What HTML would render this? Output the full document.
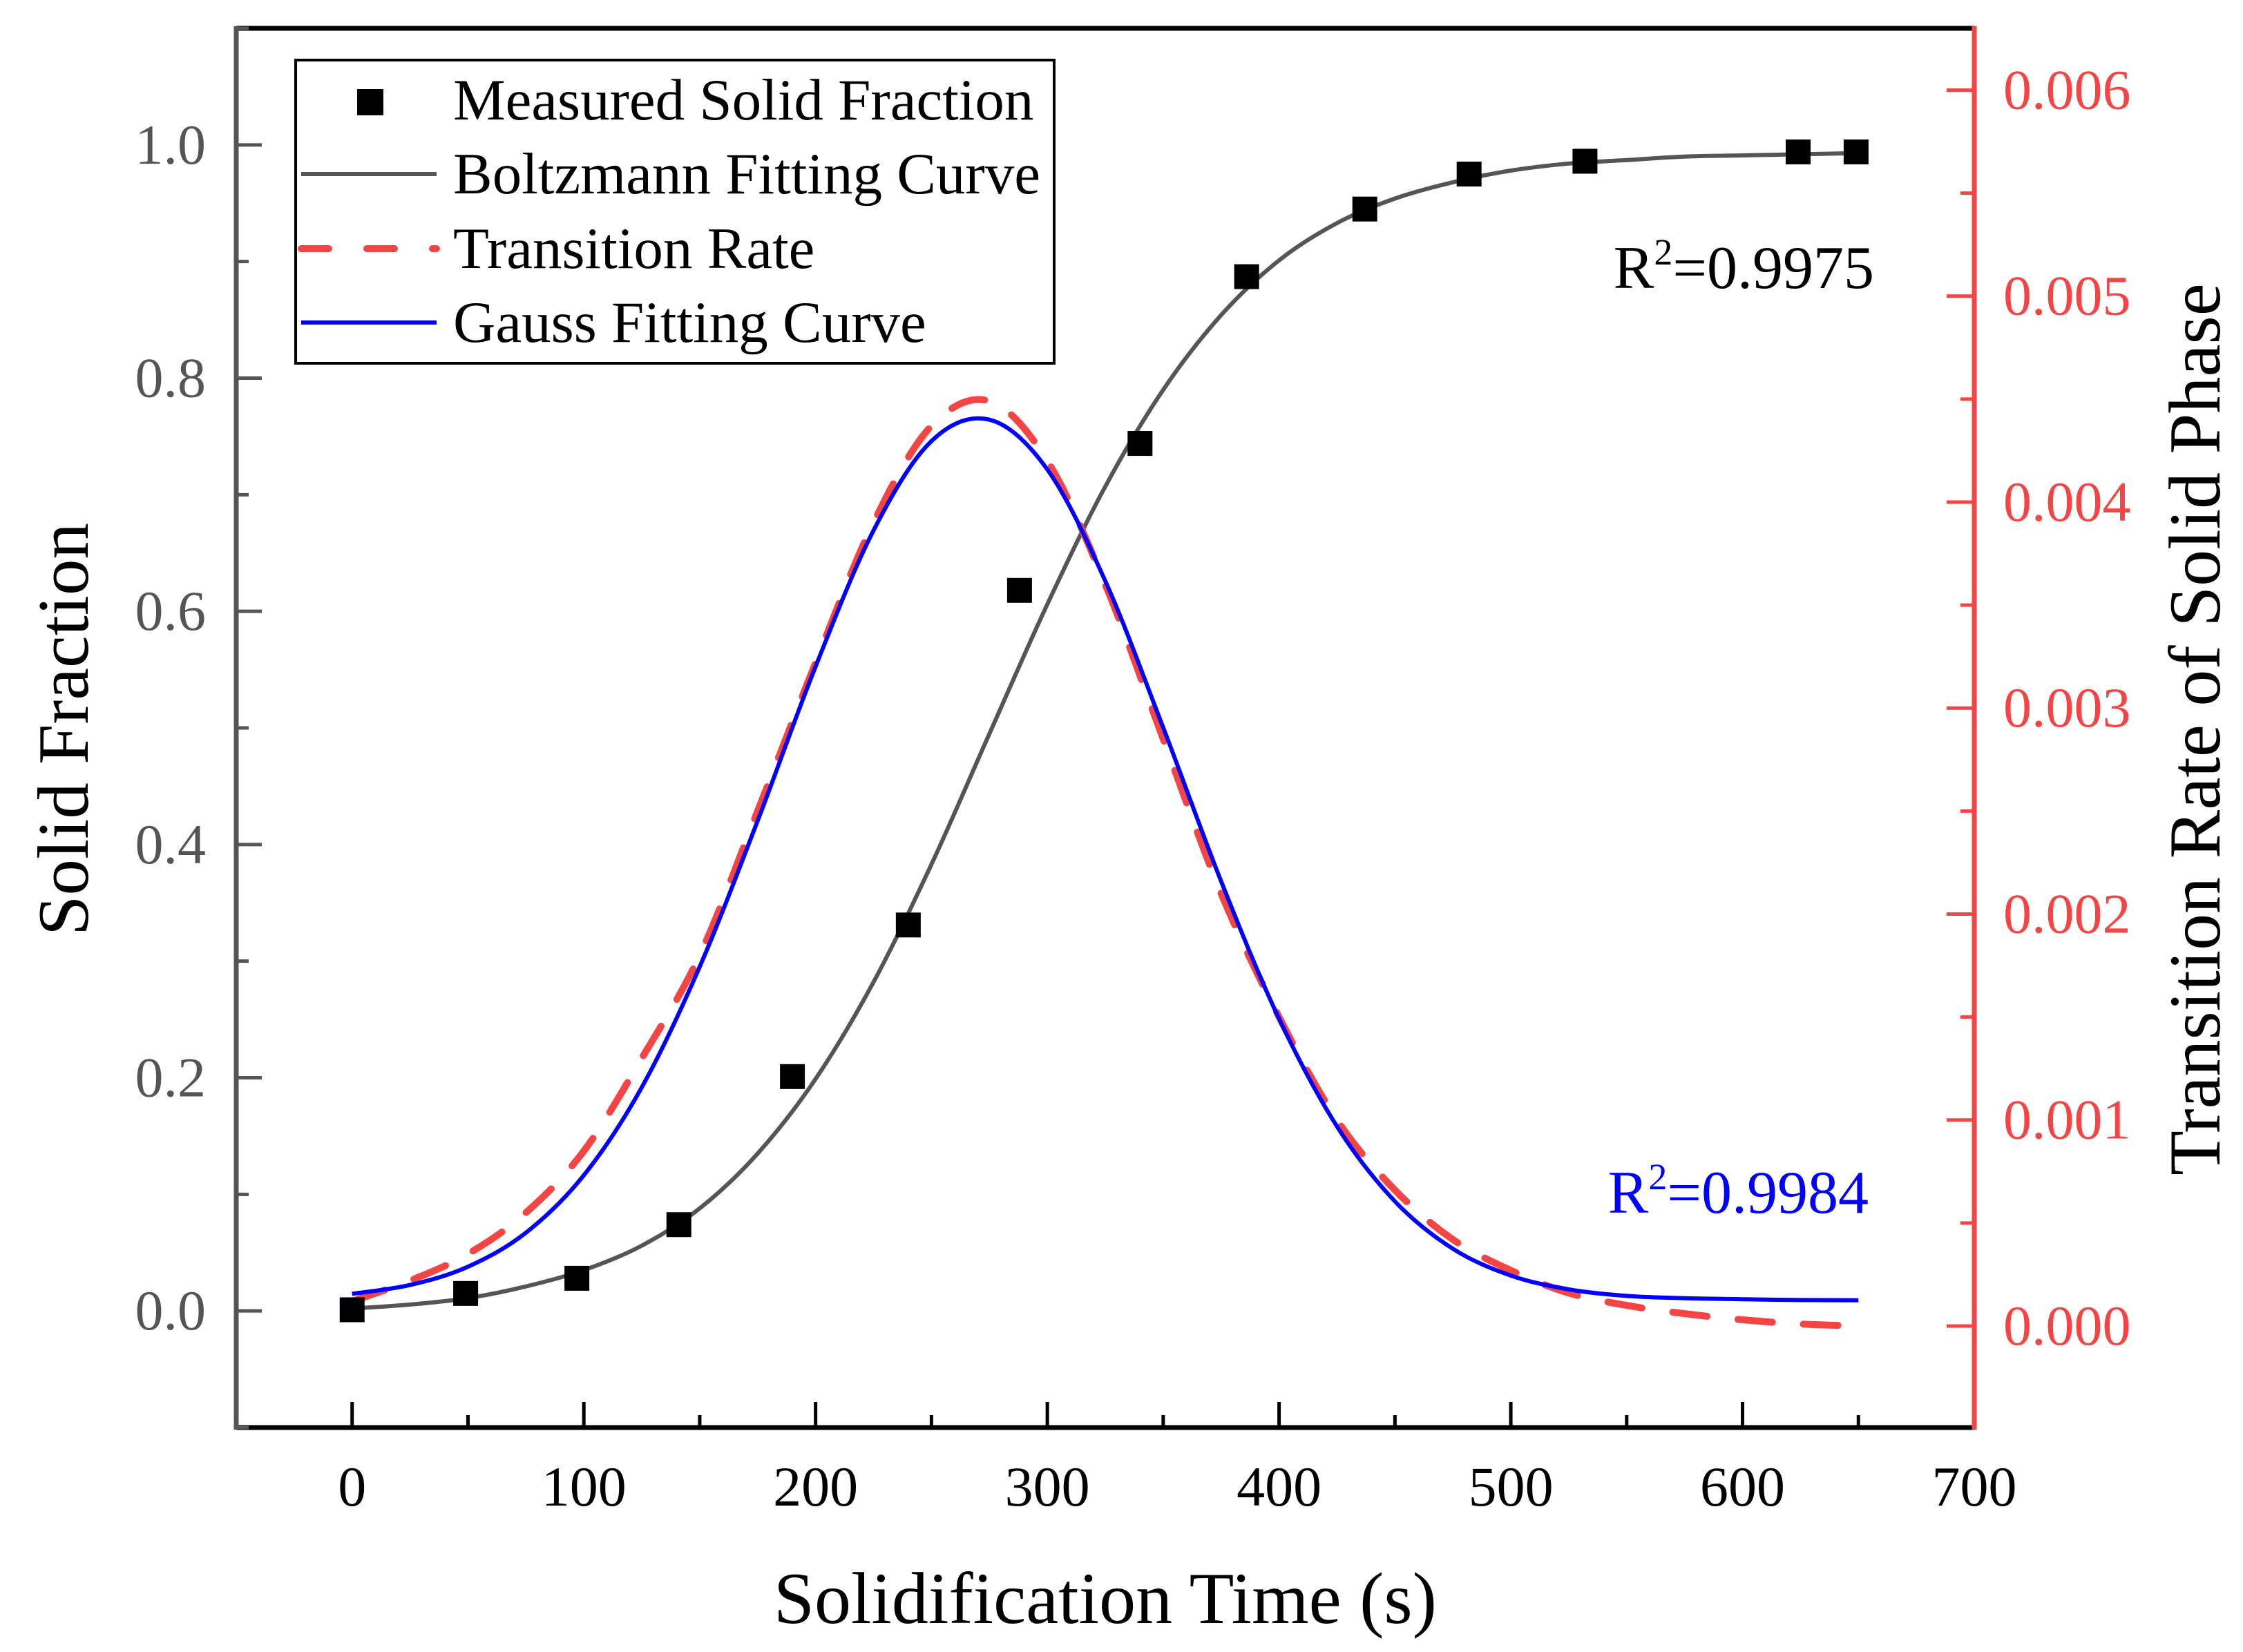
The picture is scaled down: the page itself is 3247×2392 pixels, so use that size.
<!DOCTYPE html>
<html><head><meta charset="utf-8">
<style>
html,body{margin:0;padding:0;background:#fff;}
svg{display:block;}
text{font-family:"Liberation Serif",serif;}
</style></head>
<body>
<svg id="chart" width="3247" height="2392" viewBox="0 0 3247 2392" xmlns="http://www.w3.org/2000/svg">
<rect x="0" y="0" width="3247" height="2392" fill="#fff"/>
<g id="plot"></g>
</svg>
<script>
const measuredTime = [0, 49, 97, 141, 190, 240, 288, 340, 386, 437, 482, 532, 624, 649];
const measuredFraction = [0.001, 0.015, 0.028, 0.074, 0.201, 0.331, 0.618, 0.744, 0.887, 0.945, 0.975, 0.986, 0.994, 0.994];
const curveTime = [0,25,50,75,100,125,150,175,200,225,250,275,300,325,350,375,400,425,450,475,500,525,550,575,600,625,650];
const boltzmannValues = [0.002,0.0055,0.011,0.021,0.035,0.056,0.088,0.135,0.199,0.282,0.383,0.495,0.606,0.707,0.790,0.854,0.901,0.933,0.954,0.968,0.978,0.984,0.987,0.990,0.991,0.992,0.993];
const gaussValues = [0.000156,0.000199,0.000288,0.000453,0.000732,0.001159,0.001744,0.002453,0.003202,0.003862,0.004296,0.00440,0.004158,0.003617,0.002905,0.002159,0.001492,0.000969,0.000605,0.000375,0.000245,0.000178,0.000146,0.000135,0.00013,0.000126,0.000125];
const rateValues = [0.00012,0.00022,0.00035,0.00055,0.00085,0.0013,0.0018,0.0025,0.00322,0.0039,0.00437,0.00449,0.0042,0.0036,0.00285,0.0021,0.0015,0.001,0.00066,0.00042,0.00027,0.00016,0.0001,0.00006,0.00003,0.00001,0.0];
const xTicks = [0,100,200,300,400,500,600,700];
const yLeftTicks = [0.0,0.2,0.4,0.6,0.8,1.0];
const yLeftTickLabels = ["0.0","0.2","0.4","0.6","0.8","1.0"];
const yRightTicks = [0,0.001,0.002,0.003,0.004,0.005,0.006];
const yRightTickLabels = ["0.000","0.001","0.002","0.003","0.004","0.005","0.006"];

const L=342, R=2858, T=41, B=2067;
const xMin=-50, xMax=700, yMin=-0.1, yMax=1.1, rMin=-0.000493, rMax=0.00630;
const xS=v=>L+(v-xMin)/(xMax-xMin)*(R-L);
const yS=v=>B-(v-yMin)/(yMax-yMin)*(B-T);
const rS=v=>B-(v-rMin)/(rMax-rMin)*(B-T);
const NS='http://www.w3.org/2000/svg';
const g=document.getElementById('plot');
function mk(tag,attrs,parent){const e=document.createElementNS(NS,tag);for(const k in attrs)e.setAttribute(k,attrs[k]);(parent||g).appendChild(e);return e;}

function path(xs,ys,sc){
  const P=xs.map((x,i)=>[xS(x),sc(ys[i])]);
  let d='M'+P[0][0].toFixed(1)+' '+P[0][1].toFixed(1);
  for(let i=0;i<P.length-1;i++){
    const p0=P[Math.max(0,i-1)],p1=P[i],p2=P[i+1],p3=P[Math.min(P.length-1,i+2)];
    const c1=[p1[0]+(p2[0]-p0[0])/6,p1[1]+(p2[1]-p0[1])/6];
    const c2=[p2[0]-(p3[0]-p1[0])/6,p2[1]-(p3[1]-p1[1])/6];
    d+=' C'+c1[0].toFixed(1)+' '+c1[1].toFixed(1)+' '+c2[0].toFixed(1)+' '+c2[1].toFixed(1)+' '+p2[0].toFixed(1)+' '+p2[1].toFixed(1);
  }
  return d;
}
let p=mk('path',{d:path(curveTime,boltzmannValues,yS),fill:'none',stroke:'#555','stroke-width':6});


p=mk('path',{d:path(curveTime,rateValues,rS),fill:'none',stroke:'#f44444','stroke-width':10,'stroke-dasharray':'50 45','stroke-linecap':'round'});


p=mk('path',{d:path(curveTime,gaussValues,rS),fill:'none',stroke:'#0000ff','stroke-width':6});



measuredTime.forEach((t,i)=>{
  const m=mk('rect',{x:xS(t)-18,y:yS(measuredFraction[i])-18,width:36,height:36,fill:'#000'});
  
  
});

let a=mk('line',{x1:L,y1:T,x2:R,y2:T,stroke:'#000','stroke-width':7});


a=mk('line',{x1:L,y1:B,x2:R,y2:B,stroke:'#000','stroke-width':7});


a=mk('line',{x1:L,y1:T-3,x2:L,y2:B+3,stroke:'#555','stroke-width':7});


a=mk('line',{x1:R,y1:T-3,x2:R,y2:B+3,stroke:'#f44444','stroke-width':7});



for(let v=0;v<=650;v+=50){
  const major=v%100===0;
  const t=mk('line',{x1:xS(v),y1:B,x2:xS(v),y2:B-(major?37:18),stroke:'#000','stroke-width':5});
  
  
}
xTicks.forEach(v=>{
  const t=mk('text',{x:xS(v),y:2180,'font-size':82,'text-anchor':'middle',fill:'#000'});
  t.textContent=String(v);
  
  
});
for(let i=-1;i<=11;i++){
  const v=i/10; const major=i%2===0;
  const t=mk('line',{x1:L,y1:yS(v),x2:L+(major?37:18),y2:yS(v),stroke:'#555','stroke-width':5});
  
  
}
yLeftTicks.forEach((v,i)=>{
  const t=mk('text',{x:298,y:yS(v)+27,'font-size':82,'text-anchor':'end',fill:'#555'});
  t.textContent=yLeftTickLabels[i];
  
  
});
for(let i=0;i<=12;i++){
  const v=i*0.0005; const major=i%2===0;
  const t=mk('line',{x1:R,y1:rS(v),x2:R-(major?40:20),y2:rS(v),stroke:'#f44444','stroke-width':5});
  
  
}
yRightTicks.forEach((v,i)=>{
  const t=mk('text',{x:2900,y:rS(v)+27,'font-size':82,'text-anchor':'start',fill:'#f44444'});
  t.textContent=yRightTickLabels[i];
  
  
});
</script>
<svg style="position:absolute;left:0;top:0" width="3247" height="2392" viewBox="0 0 3247 2392" xmlns="http://www.w3.org/2000/svg">
<text x="1600" y="2350" font-size="106" text-anchor="middle" fill="#000">Solidification Time (s)</text>
<text x="0" y="0" font-size="105" text-anchor="middle" fill="#000" transform="translate(127,1056) rotate(-90)">Solid Fraction</text>
<text x="0" y="0" font-size="106" text-anchor="middle" fill="#000" transform="translate(3213,1056) rotate(-90)">Transition Rate of Solid Phase</text>
<text x="2713" y="417" font-size="88" text-anchor="end" fill="#000">R<tspan dy="-34" font-size="54">2</tspan><tspan dy="34">=0.9975</tspan></text>
<text x="2705" y="1756" font-size="88" text-anchor="end" fill="#0000ff">R<tspan dy="-34" font-size="54">2</tspan><tspan dy="34">=0.9984</tspan></text>
<g>
<rect x="428" y="87" width="1098" height="439" fill="#fff" stroke="#000" stroke-width="4"/>
<rect x="517" y="129" width="38" height="38" fill="#000"/>
<text x="656" y="173" font-size="85" fill="#000">Measured Solid Fraction</text>
<line x1="436" y1="252" x2="632" y2="252" stroke="#555" stroke-width="6"/>
<text x="656" y="280" font-size="85" fill="#000">Boltzmann Fitting Curve</text>
<line x1="436" y1="360" x2="632" y2="360" stroke="#f44444" stroke-width="10" stroke-dasharray="40 55" stroke-linecap="round"/>
<text x="656" y="388" font-size="85" fill="#000">Transition Rate</text>
<line x1="436" y1="467" x2="632" y2="467" stroke="#0000ff" stroke-width="6"/>
<text x="656" y="495" font-size="85" fill="#000">Gauss Fitting Curve</text>
</g>
</svg>
</body></html>
